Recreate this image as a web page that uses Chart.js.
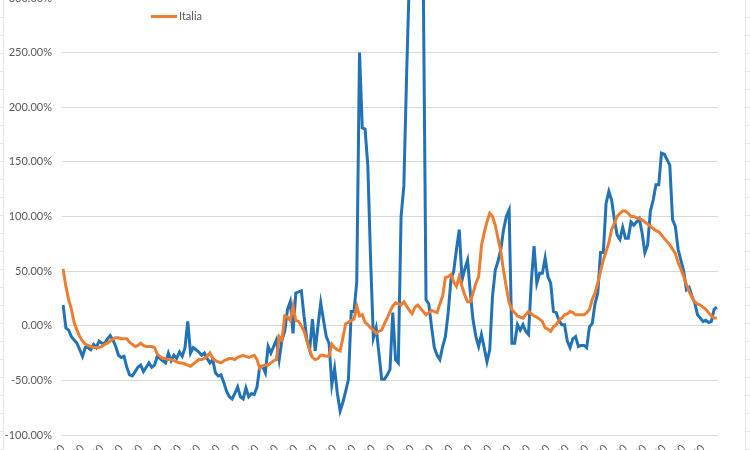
<!DOCTYPE html>
<html>
<head>
<meta charset="utf-8">
<script src="https://cdn.jsdelivr.net/npm/chart.js@4.4.1/dist/chart.umd.min.js"></script>
<style>
html,body{margin:0;padding:0;width:750px;height:450px;overflow:hidden;background:#fff;}
#wrap{position:absolute;left:0;top:-22px;width:750px;height:540px;}
#sheetL{position:absolute;left:0;top:0;width:3px;height:450px;border-right:1px solid #e6e6e6;
  background:repeating-linear-gradient(to bottom,transparent 0,transparent 17px,#e6e6e6 17px,#e6e6e6 18px);}
#sheetR{position:absolute;left:745px;top:0;width:5px;height:450px;border-left:1px solid #e6e6e6;
  background:repeating-linear-gradient(to bottom,transparent 0,transparent 17px,#e6e6e6 17px,#e6e6e6 18px);}
#legend{position:absolute;left:151px;top:8px;height:16px;font:11px Lato,"Open Sans",sans-serif;color:#595959;white-space:nowrap;}
#legend .sw{position:absolute;left:0;top:7px;width:26px;height:3px;background:#ED7D31;}
#legend .tx{position:absolute;left:28px;top:0;line-height:16px;}
</style>
</head>
<body>
<div id="sheetL"></div>
<div id="sheetR"></div>
<div id="wrap"><canvas id="c" width="750" height="540"></canvas></div>
<div id="legend"><span class="sw"></span><span class="tx">Italia</span></div>
<script>
// Tick labels (one every 7 days)
const tickDays = [0,7,14,21,28,35,42,49,56,63,70,77,84,91,98,105,112,119,126,133,140,147,154,161,168,175,182,189,196,203,210,217,224,231];
const tickLabels = ["01/03/2020","08/03/2020","15/03/2020","22/03/2020","29/03/2020","05/04/2020","12/04/2020","19/04/2020","26/04/2020","03/05/2020","10/05/2020","17/05/2020","24/05/2020","31/05/2020","07/06/2020","14/06/2020","21/06/2020","28/06/2020","05/07/2020","12/07/2020","19/07/2020","26/07/2020","02/08/2020","09/08/2020","16/08/2020","23/08/2020","30/08/2020","06/09/2020","13/09/2020","20/09/2020","27/09/2020","04/10/2020","11/10/2020","18/10/2020"];

// Blue series (daily %)
const blueValues = [
19,-2,-4,-10,-13,-16,-22,-28,-20,-20,
-22,-17,-20,-14,-16,-16,-12,-9,-13,-19,
-27,-29,-28,-38,-45,-46,-42,-38,-36,-42,
-38,-34,-38,-36,-28,-30,-32,-34,-25,-32,
-27,-30,-24,-28,-20,4,-25,-20,-22,-24,
-27,-25,-30,-34,-31,-43,-46,-45,-52,-60,
-65,-67,-62,-56,-65,-67,-57,-65,-62,-63,
-56,-37,-37,-43,-19,-25,-19,-13,-31,-13,
-5,15,22,-7,30,31,32,8,-13,-22,
6,-23,0,21,5,-10,-16,-54,-39,-62,
-78,-70,-60,-49,13,13,40,250,181,180,
146,60,-11,-2,-25,-49,-49,-45,-40,12,
-31,-34,100,128,230,320,400,420,400,370,
320,24,20,-1,-20,-27,-31,-19,-10,12,
42,50,70,88,42,52,60,30,5,-10,
-19,-8,-20,-33,-22,27,51,59,70,88,
100,106,-16,-16,1,-4,1,-5,-8,40,
73,39,48,48,62,45,39,13,12,5,
1,1,-14,-20,-12,-10,-19,-18,-18,-20,
-1,2,20,30,67,67,112,123,115,97,
83,79,90,80,80,95,92,95,98,85,
67,74,105,115,129,129,158,157,152,147,
97,91,70,60,50,33,35,27,21,10,
7,4,5,3,4,15,17
];

// Italia series (daily %)
const italiaValues = [
52,36,24,15,3,-4,-10,-14,-17,-18,
-19,-20,-20,-20,-19,-17,-16,-14,-12,-11,
-11,-12,-12,-12,-15,-17,-19,-18,-16,-18,
-19,-19,-19,-20,-26,-28,-30,-30,-31,-31,
-32,-33,-34,-34,-35,-36,-37,-35,-33,-31,
-31,-30,-28,-25,-30,-32,-33,-34,-32,-31,
-30,-30,-31,-29,-28,-27,-28,-29,-28,-27,
-31,-39,-37,-36,-36,-34,-32,-31,-10,-13,
9,8,5,18,5,4,0,-5,-14,-22,
-29,-31,-30,-27,-27,-28,-28,-17,-20,-22,
-23,-11,2,3,5,6,18,9,10,3,
1,-2,-4,-7,-5,-4,2,7,13,18,
21,20,19,22,18,14,11,17,19,16,
13,10,12,14,13,12,20,27,44,45,
47,40,36,45,36,28,22,22,30,39,
45,73,85,95,103,100,92,80,68,50,
35,21,15,12,9,8,7,10,13,11,
9,8,6,4,-2,-3,-5,-1,1,5,
7,10,11,13,12,10,10,10,10,12,
15,24,30,39,50,60,68,76,88,94,
100,103,105,105,103,100,100,99,98,97,
95,93,91,89,87,86,83,80,77,74,
70,66,58,52,45,38,31,26,22,20,
19,17,15,12,9,7,7
];

const toPoints = arr => arr.map((v, i) => ({x: i, y: v}));

const FONT = {family: 'Lato, "Open Sans", sans-serif', size: 11};

new Chart(document.getElementById('c'), {
  type: 'line',
  data: {
    datasets: [
      {label: 'Italia', data: toPoints(italiaValues), borderColor: '#ED7D31', borderWidth: 3,
       pointRadius: 0, tension: 0, order: 0},
      {label: '', data: toPoints(blueValues), borderColor: '#2272B8', borderWidth: 3,
       pointRadius: 0, tension: 0, order: 1}
    ]
  },
  options: {
    responsive: false,
    animation: false,
    devicePixelRatio: 1,
    layout: {padding: {top: 20, right: 32, left: 0, bottom: 0}},
    plugins: {legend: {display: false}, tooltip: {enabled: false}},
    scales: {
      x: {
        type: 'linear',
        min: -0.4,
        max: 236.4,
        afterBuildTicks: s => { s.ticks = tickDays.map(v => ({value: v})); },
        afterFit: s => { s.height = 83; },
        grid: {display: false, drawTicks: false},
        border: {display: false},
        ticks: {
          autoSkip: false, maxRotation: 45, minRotation: 45, padding: 7,
          color: '#595959', font: FONT,
          callback: (v) => tickLabels[tickDays.indexOf(v)]
        }
      },
      y: {
        min: -100,
        max: 300,
        afterFit: s => { s.width = 62; },
        grid: {color: '#d9d9d9', lineWidth: 1, drawTicks: false},
        border: {display: false},
        ticks: {
          stepSize: 50, padding: 10, color: '#595959', font: FONT,
          callback: v => v.toFixed(2) + '%'
        }
      }
    }
  }
});
</script>
</body>
</html>
